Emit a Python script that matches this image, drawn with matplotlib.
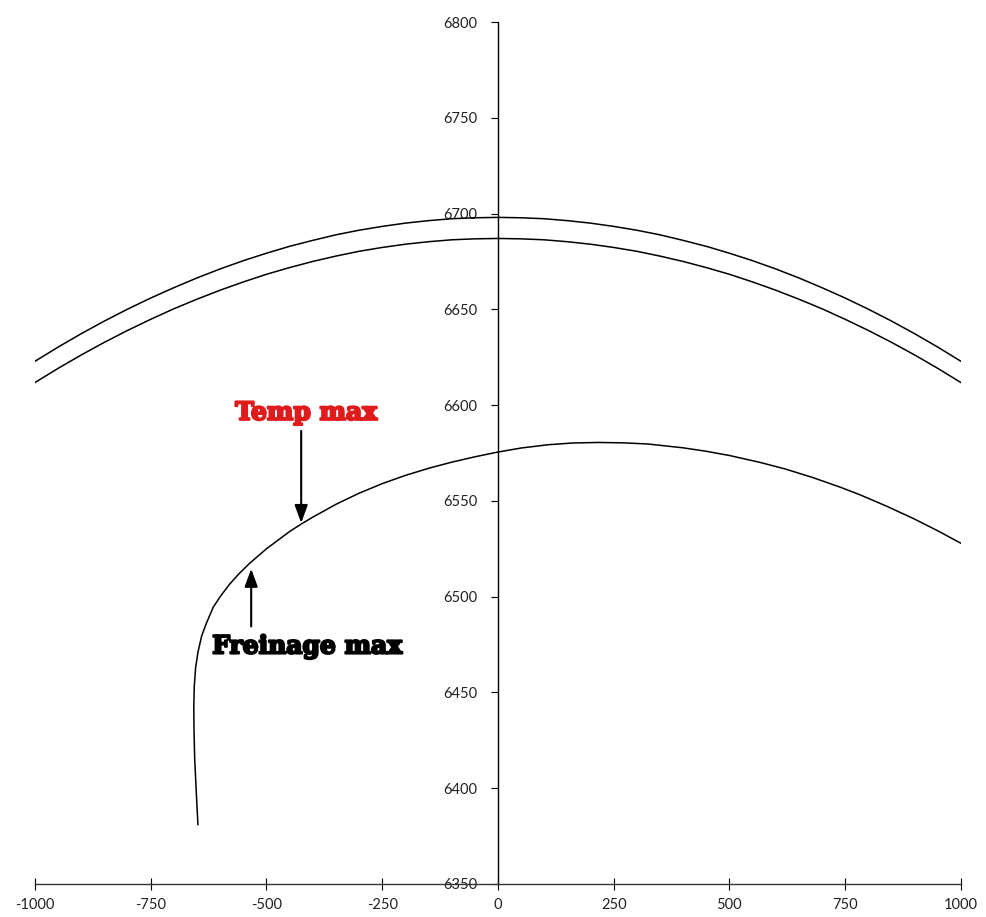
import matplotlib.pyplot as plt
import matplotlib.patheffects as pe

plt.rcParams['axes.unicode_minus'] = False

# upper arcs
arc_x = [-1000, -950, -900, -850, -800, -750, -700, -650, -600, -550, -500,
         -450, -400, -350, -300, -250, -200, -150, -100, -50, 0,
         50, 100, 150, 200, 250, 300, 350, 400, 450, 500,
         550, 600, 650, 700, 750, 800, 850, 900, 950, 1000]
arc_outer = [6622.9, 6630.3, 6637.3, 6643.9, 6650.1, 6655.9, 6661.3, 6666.4,
             6671.1, 6675.4, 6679.3, 6682.9, 6686.0, 6688.9, 6691.3, 6693.3,
             6695.0, 6696.3, 6697.3, 6697.8, 6698.0,
             6697.8, 6697.3, 6696.3, 6695.0, 6693.3, 6691.3, 6688.9, 6686.0,
             6682.9, 6679.3, 6675.4, 6671.1, 6666.4, 6661.3, 6655.9, 6650.1,
             6643.9, 6637.3, 6630.3, 6622.9]
arc_inner = [6611.8, 6619.2, 6626.2, 6632.8, 6639.0, 6644.8, 6650.3, 6655.3,
             6660.0, 6664.3, 6668.3, 6671.8, 6675.0, 6677.8, 6680.3, 6682.3,
             6684.0, 6685.3, 6686.3, 6686.8, 6687.0,
             6686.8, 6686.3, 6685.3, 6684.0, 6682.3, 6680.3, 6677.8, 6675.0,
             6671.8, 6668.3, 6664.3, 6660.0, 6655.3, 6650.3, 6644.8, 6639.0,
             6632.8, 6626.2, 6619.2, 6611.8]

# lower trajectory
traj_x = [-648, -650, -652, -655, -656.5, -657, -656, -653, -648, -640, -630,
          -615, -600, -580, -560, -536, -500, -450, -425, -400, -350, -300,
          -250, -200, -150, -100, -50, 0, 50, 108, 160, 216, 270, 324, 400,
          450, 500, 566, 620, 680, 740, 782, 840, 900, 950, 1000]
traj_y = [6381, 6390, 6400, 6415, 6430, 6442, 6453, 6463, 6471, 6479.5, 6486,
          6494.5, 6500, 6506.4, 6511.8, 6517.5, 6525, 6534, 6537.9, 6541.5,
          6548.2, 6554, 6559, 6563.3, 6567, 6570.2, 6573, 6575.5, 6577.6,
          6579.3, 6580.2, 6580.5, 6580.3, 6579.7, 6577.7, 6575.9, 6573.7,
          6570.1, 6566.7, 6562.2, 6557.1, 6553.2, 6547.2, 6540.5, 6534.4, 6527.9]

xticks = [-1000, -750, -500, -250, 0, 250, 500, 750, 1000]
yticks = [6350, 6400, 6450, 6500, 6550, 6600, 6650, 6700, 6750, 6800]

fig = plt.figure(figsize=(9.86, 9.17), dpi=100)
ax = fig.add_axes([0.0355, 0.036, 0.939, 0.940])

ax.plot(arc_x, arc_outer, color='black', lw=1.1)
ax.plot(arc_x, arc_inner, color='black', lw=1.1)
ax.plot(traj_x, traj_y, color='black', lw=1.1)

ax.set_xlim(-1000, 1000)
ax.set_ylim(6350, 6800)
ax.set_xticks(xticks)
ax.set_yticks(yticks)

ax.spines['left'].set_position(('data', 0))
ax.spines['right'].set_visible(False)
ax.spines['top'].set_visible(False)
ax.spines['left'].set_linewidth(1.0)
ax.spines['bottom'].set_linewidth(1.0)
ax.spines['bottom'].set_color('#333333')

ax.tick_params(axis='y', direction='out', length=5, pad=10, labelsize=10.5,
               labelcolor='#222222')
ax.tick_params(axis='x', direction='inout', length=8, pad=6, labelsize=10.5,
               labelcolor='#222222')
for lab in ax.get_xticklabels() + ax.get_yticklabels():
    lab.set_family('Lato')

# annotations
arrow = dict(arrowstyle='-|>,head_length=0.6,head_width=0.22', color='black',
             lw=1.5, mutation_scale=18)
ax.annotate('', xy=(-425, 6537), xytext=(-425, 6588), arrowprops=arrow)
ax.text(-414, 6596, 'Temp max', color='#e01b1b', fontsize=18,
        fontweight='bold', family='DejaVu Serif', ha='center', va='center',
        path_effects=[pe.withStroke(linewidth=1.6, foreground='#e01b1b')])

ax.annotate('', xy=(-533, 6516), xytext=(-533, 6483), arrowprops=arrow)
ax.text(-412, 6474, 'Freinage max', color='black', fontsize=18,
        fontweight='bold', family='DejaVu Serif', ha='center', va='center',
        path_effects=[pe.withStroke(linewidth=1.6, foreground='black')])

fig.savefig('out.png', dpi=100)
